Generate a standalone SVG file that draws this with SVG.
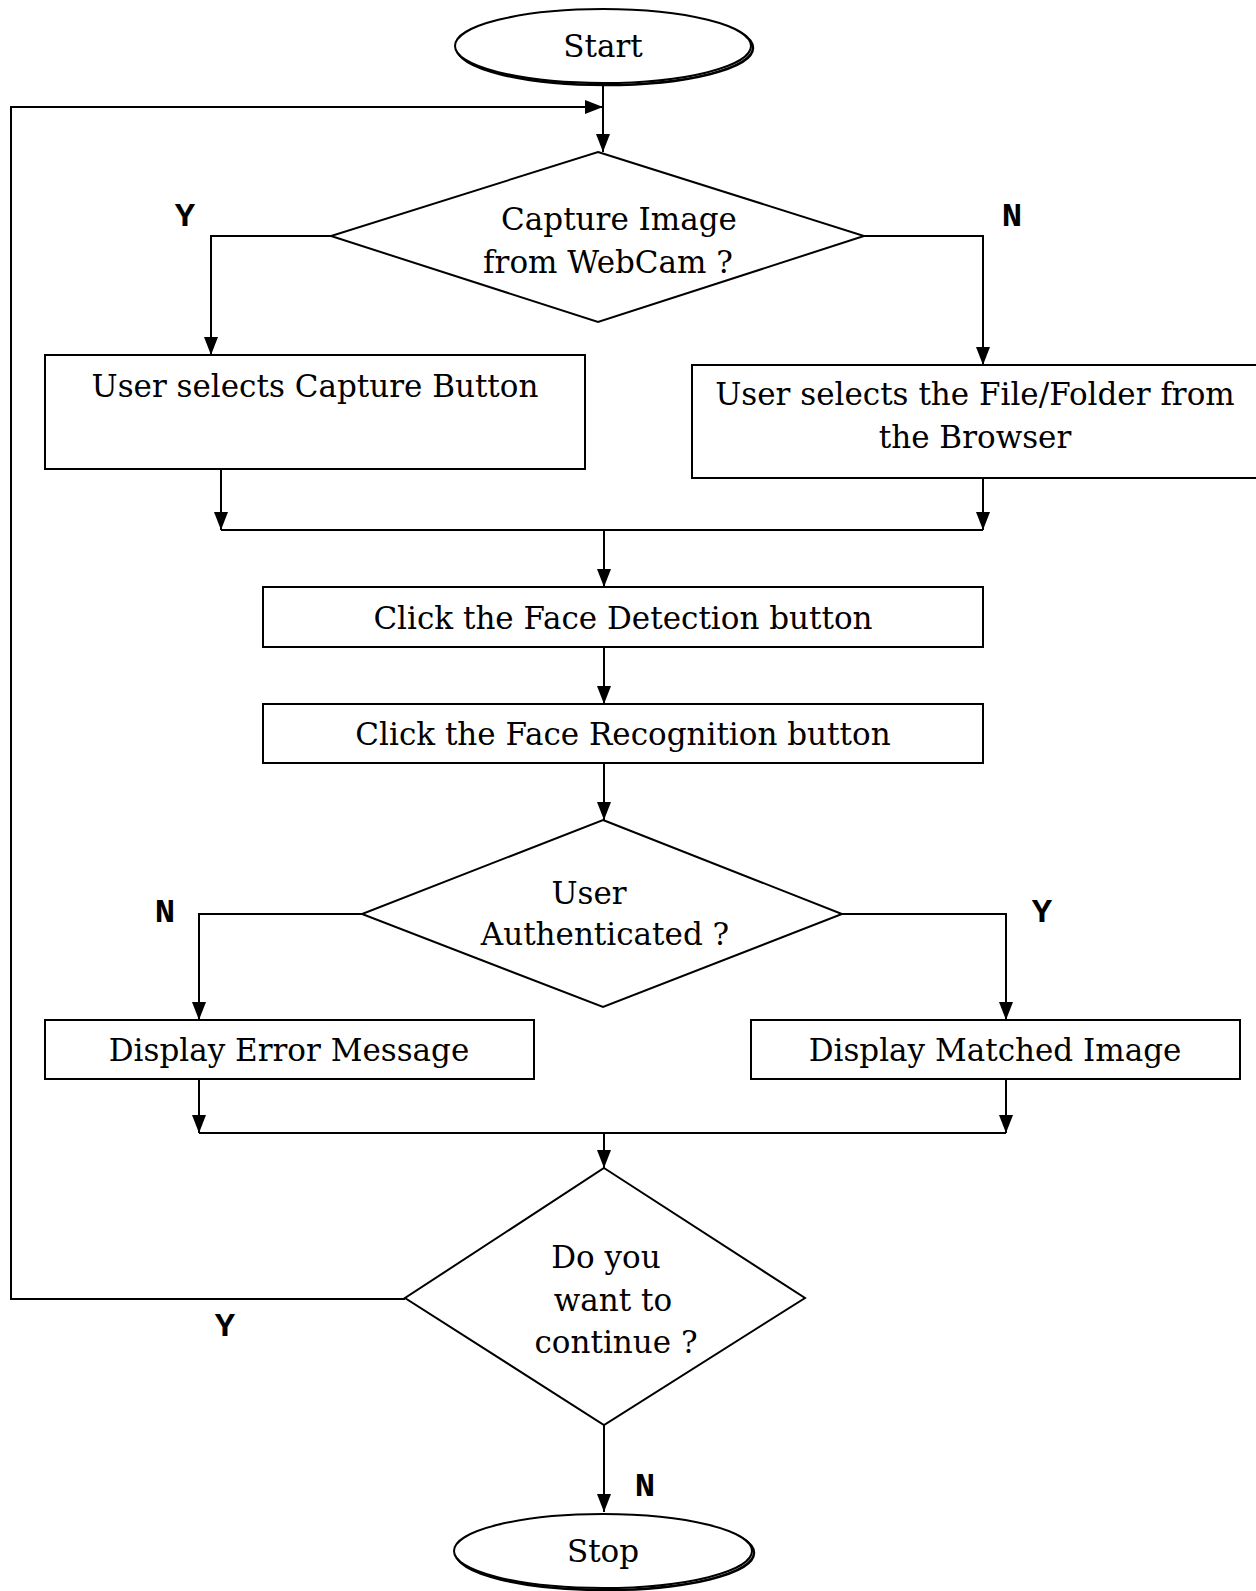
<svg xmlns="http://www.w3.org/2000/svg" width="1256" height="1591" viewBox="0 0 1256 1591">
  <style>
    .shape { fill: #ffffff; stroke: #000000; stroke-width: 2; }
    .shadow { fill: none; stroke: #000000; stroke-width: 2.5; }
    .wire { fill: none; stroke: #000000; stroke-width: 2; }
    .txt { font-family: "DejaVu Serif", "Liberation Serif", serif; font-size: 31px; fill: #000000; text-anchor: middle; }
    .lbl { font-family: "Liberation Mono", "DejaVu Sans Mono", monospace; font-size: 34px; font-weight: bold; fill: #000000; text-anchor: middle; }
  </style>
  <defs>
    <marker id="arrow" viewBox="0 0 18 14" refX="18" refY="7" markerWidth="18" markerHeight="14" markerUnits="userSpaceOnUse" orient="auto">
      <path d="M0,0 L18,7 L0,14 Z" fill="#000000"/>
    </marker>
  </defs>
  <rect width="1256" height="1591" fill="#ffffff"/>

  <!-- connectors -->
  <g id="connectors">
    <line class="wire" x1="603" y1="84" x2="603" y2="152" marker-end="url(#arrow)"/>
    <polyline class="wire" points="405,1299 11,1299 11,107 603,107" marker-end="url(#arrow)"/>
    <polyline class="wire" points="331,236 211,236 211,355" marker-end="url(#arrow)"/>
    <polyline class="wire" points="864,236 983,236 983,365" marker-end="url(#arrow)"/>
    <line class="wire" x1="221" y1="469" x2="221" y2="530" marker-end="url(#arrow)"/>
    <line class="wire" x1="983" y1="478" x2="983" y2="530" marker-end="url(#arrow)"/>
    <line class="wire" x1="221" y1="530" x2="983" y2="530"/>
    <line class="wire" x1="604" y1="530" x2="604" y2="587" marker-end="url(#arrow)"/>
    <line class="wire" x1="604" y1="647" x2="604" y2="704" marker-end="url(#arrow)"/>
    <line class="wire" x1="604" y1="763" x2="604" y2="820" marker-end="url(#arrow)"/>
    <polyline class="wire" points="362,914 199,914 199,1020" marker-end="url(#arrow)"/>
    <polyline class="wire" points="842,914 1006,914 1006,1020" marker-end="url(#arrow)"/>
    <line class="wire" x1="199" y1="1079" x2="199" y2="1133" marker-end="url(#arrow)"/>
    <line class="wire" x1="1006" y1="1079" x2="1006" y2="1133" marker-end="url(#arrow)"/>
    <line class="wire" x1="199" y1="1133" x2="1006" y2="1133"/>
    <line class="wire" x1="604" y1="1133" x2="604" y2="1168" marker-end="url(#arrow)"/>
    <line class="wire" x1="604" y1="1425" x2="604" y2="1512" marker-end="url(#arrow)"/>
  </g>

  <!-- branch labels -->
  <g id="labels">
    <text class="lbl" x="185" y="226">Y</text>
    <text class="lbl" x="1012" y="226">N</text>
    <text class="lbl" x="165" y="922">N</text>
    <text class="lbl" x="1042" y="922">Y</text>
    <text class="lbl" x="225" y="1336">Y</text>
    <text class="lbl" x="645" y="1496">N</text>
  </g>

  <g id="start">
    <ellipse class="shadow" cx="605" cy="48" rx="148" ry="37"/>
    <ellipse class="shape" cx="603" cy="46" rx="148" ry="37"/>
    <text class="txt" x="603" y="57">Start</text>
  </g>

  <g id="decision-webcam">
    <polygon class="shape" points="598,152 864,236 598,322 331,236"/>
    <text class="txt" x="619" y="230">Capture Image</text>
    <text class="txt" x="608" y="273">from WebCam ?</text>
  </g>

  <g id="capture-button">
    <rect class="shape" x="45" y="355" width="540" height="114"/>
    <text class="txt" x="315" y="397">User selects Capture Button</text>
  </g>

  <g id="file-browser">
    <rect class="shape" x="692" y="365" width="580" height="113"/>
    <text class="txt" x="975" y="405">User selects the File/Folder from</text>
    <text class="txt" x="975" y="448">the Browser</text>
  </g>

  <g id="face-detection">
    <rect class="shape" x="263" y="587" width="720" height="60"/>
    <text class="txt" x="623" y="629">Click the Face Detection button</text>
  </g>

  <g id="face-recognition">
    <rect class="shape" x="263" y="704" width="720" height="59"/>
    <text class="txt" x="623" y="745">Click the Face Recognition button</text>
  </g>

  <g id="decision-auth">
    <polygon class="shape" points="603,820 842,914 603,1007 362,914"/>
    <text class="txt" x="589" y="904">User</text>
    <text class="txt" x="605" y="945">Authenticated ?</text>
  </g>

  <g id="error-message">
    <rect class="shape" x="45" y="1020" width="489" height="59"/>
    <text class="txt" x="289" y="1061">Display Error Message</text>
  </g>

  <g id="matched-image">
    <rect class="shape" x="751" y="1020" width="489" height="59"/>
    <text class="txt" x="995" y="1061">Display Matched Image</text>
  </g>

  <g id="decision-continue">
    <polygon class="shape" points="604,1168 805,1298 604,1425 405,1298"/>
    <text class="txt" x="606" y="1268">Do you</text>
    <text class="txt" x="613" y="1311">want to</text>
    <text class="txt" x="616" y="1353">continue ?</text>
  </g>

  <g id="stop">
    <ellipse class="shadow" cx="605" cy="1553" rx="149" ry="37"/>
    <ellipse class="shape" cx="603" cy="1551" rx="149" ry="37"/>
    <text class="txt" x="603" y="1562">Stop</text>
  </g>
</svg>
